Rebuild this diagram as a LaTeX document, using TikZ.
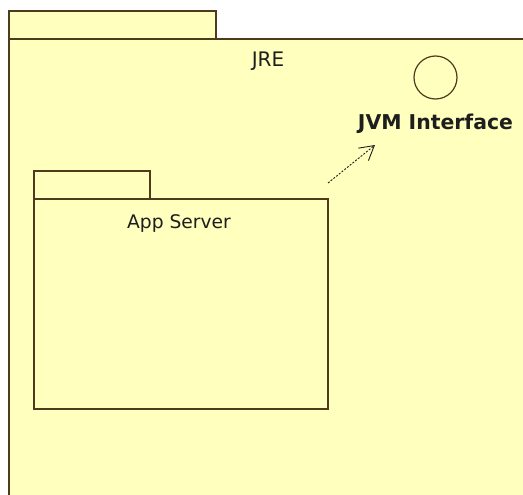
\documentclass[tikz,border=0pt]{standalone}
\usepackage{fontspec}
\setmainfont{DejaVu Sans}
\usetikzlibrary{arrows.meta}
\definecolor{pkgfill}{RGB}{255,255,190}
\definecolor{pkgline}{RGB}{80,58,30}
\definecolor{txt}{RGB}{30,30,30}
\begin{document}
\begin{tikzpicture}[x=1pt,y=-1pt,
  pkg/.style={draw=pkgline,fill=pkgfill,line width=1.6pt,inner sep=0pt,anchor=north west},
  lbl/.style={text=txt,inner sep=0pt,anchor=base},
  iface/.style={circle,draw=pkgline,fill=pkgfill,line width=1.2pt,inner sep=0pt,minimum size=43pt},
  dep/.style={draw=txt,line width=0.9pt,dash pattern=on 2pt off 1.5pt,-{Straight Barb[length=14pt,width=16pt,line width=0.9pt]}}]
\clip (0,0) rectangle (523,495);
\fill[white] (0,0) rectangle (523,495);
% JRE package
\node[pkg,minimum width=207pt,minimum height=28pt] (jretab) at (8,10) {};
\node[pkg,minimum width=530pt,minimum height=470pt] (jre) at (8,38) {};
\node[lbl,font=\fontsize{20}{24}\selectfont] (jrelbl) at (268,67) {JRE};
% interface
\node[iface] (jvm) at (435.5,77.5) {};
\node[lbl,font=\fontsize{20.4}{24}\selectfont\bfseries] (jvmlbl) at (435.5,130) {JVM Interface};
% App Server package
\node[pkg,minimum width=116pt,minimum height=28pt] (apptab) at (33,170) {};
\node[pkg,minimum width=294pt,minimum height=210pt] (app) at (33,198) {};
\node[lbl,font=\fontsize{18.7}{22}\selectfont] (applbl) at (179,228) {App Server};
% dependency
\coordinate (d1) at (328,183);
\coordinate (d2) at (375,145);
\draw[dep] (d1) -- (d2);
\end{tikzpicture}
\end{document}
